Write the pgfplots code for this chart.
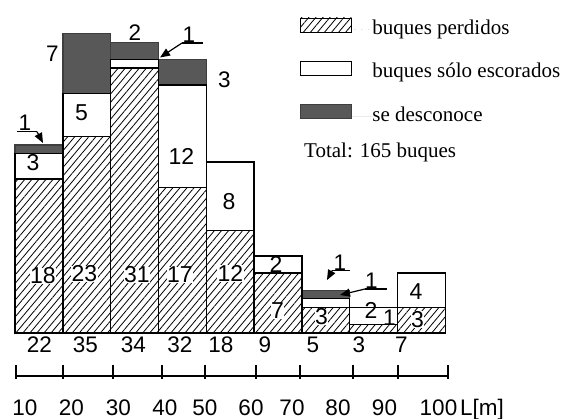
\documentclass[border=0pt]{standalone}
\usepackage{pgfplots}
\pgfplotsset{compat=1.18}
\usetikzlibrary{patterns.meta,arrows.meta}
\usepackage{fontspec}
\setmainfont{Liberation Serif}
\newfontfamily\arialf{Liberation Sans}
\definecolor{darkbar}{RGB}{88,88,88}
% pixel row -> axis y (baseline at row 333, 8.55 px per ship)
\newcommand{\Y}[1]{(333-#1)/8.55}
\tikzset{
  lab/.style={font=\arialf\fontsize{23bp}{26bp}\selectfont, inner sep=0.3bp, fill=white},
  labw/.style={font=\arialf\fontsize{23bp}{26bp}\selectfont, inner sep=0pt},
  labn/.style={font=\arialf\fontsize{22.5bp}{26bp}\selectfont, inner sep=0pt},
  arr/.style={line width=1.2bp, -{Triangle[length=10bp,width=8bp]}},
}
\pgfplotsset{
  common/.style={at={(0,0)}, anchor=south west, scale only axis,
    width=562bp, height=419bp, xmin=0, xmax=562, ymin=-10.0585, ymax=38.9474,
    hide axis, clip=false},
  boxlegend/.style={legend image code/.code={%
      \draw[##1, line width=0.9bp] (0bp,-2bp) rectangle (51bp,12bp);
      \path[draw=none] (0bp,0bp) -- (72bp,0bp);}},
}
\begin{document}
\begin{tikzpicture}
\begin{axis}[common,
  ybar stacked, bar width=47.8,
  legend style={at={(0.5338,0.9582)}, anchor=north west, draw=none, fill=none,
    inner sep=0pt, outer sep=0pt, row sep=21.5bp, column sep=0pt,
    font=\fontsize{21bp}{25bp}\selectfont,
    nodes={inner sep=0pt, text height=14bp, text depth=5bp}},
  legend cell align=left,
]
\addplot[draw=black, line width=1.4bp,
  pattern={Lines[angle=50,distance=5.4bp,line width=0.8bp]}, boxlegend]
  coordinates {(39,18) (86.8,23) (134.6,31) (182.4,17) (230.2,12) (278,7) (325.8,3) (373.6,1) (421.4,3)};
\addlegendentry{buques perdidos}
\addplot[draw=black, line width=1.4bp, fill=white, boxlegend]
  coordinates {(39,3) (86.8,5) (134.6,1) (182.4,12) (230.2,8) (278,2) (325.8,1) (373.6,2) (421.4,4)};
\addlegendentry{buques sólo escorados}
\addplot[draw=darkbar!70!black, line width=1.4bp, fill=darkbar, boxlegend]
  coordinates {(39,1) (86.8,7) (134.6,2) (182.4,3) (230.2,0) (278,0) (325.8,1) (373.6,0) (421.4,0)};
\addlegendentry{se desconoce}
\end{axis}

\begin{axis}[common]
% scale bar
\addplot[black, line width=2.4bp, mark=|, mark size=7bp,
  mark options={yshift=4bp, line width=1.8bp}]
  coordinates {(16,-5.0292) (63,-5.0292) (113,-5.0292) (162,-5.0292) (205,-5.0292)
               (256,-5.0292) (300,-5.0292) (353,-5.0292) (398,-5.0292) (448,-5.0292)};

% labels inside / beside bars
\node[lab] at (axis cs:43,{\Y{276}}) {18};
\node[labw] at (axis cs:33,{\Y{162.5}}) {3};
\node[lab] at (axis cs:84.5,{\Y{274}}) {23};
\node[labw] at (axis cs:81.5,{\Y{112.5}}) {5};
\node[labn] at (axis cs:52.5,{\Y{53.5}}) {7};
\node[lab] at (axis cs:137,{\Y{275}}) {31};
\node[labn] at (axis cs:135,{\Y{32.5}}) {2};
\node[lab] at (axis cs:180,{\Y{275}}) {17};
\node[labw] at (axis cs:181.5,{\Y{156.5}}) {12};
\node[labn] at (axis cs:224.5,{\Y{80}}) {3};
\node[lab] at (axis cs:230.5,{\Y{273.5}}) {12};
\node[labw] at (axis cs:229,{\Y{201.5}}) {8};
\node[lab] at (axis cs:277.5,{\Y{311}}) {7};
\node[labw] at (axis cs:276,{\Y{264.5}}) {2};
\node[lab] at (axis cs:321.5,{\Y{317}}) {3};
\node[labw] at (axis cs:371,{\Y{310.5}}) {2};
\node[labn] at (axis cs:389.5,{\Y{317.5}}) {1};
\node[labw] at (axis cs:416,{\Y{291.5}}) {4};
\node[lab] at (axis cs:417.5,{\Y{319.5}}) {3};

% "1" call-outs with arrows
\node[labn] at (axis cs:25,{\Y{122.5}}) {1};
\draw[line width=1.2bp] (axis cs:17,{\Y{131.7}}) -- (axis cs:37,{\Y{131.7}});
\draw[arr] (axis cs:37,{\Y{131.7}}) -- (axis cs:43,{\Y{143}});
\node[labn] at (axis cs:189,{\Y{35}}) {1};
\draw[line width=1.2bp] (axis cs:182,{\Y{43}}) -- (axis cs:203,{\Y{43}});
\draw[arr] (axis cs:182,{\Y{43}}) -- (axis cs:160,{\Y{57.5}});
\node[labn] at (axis cs:340,{\Y{262.5}}) {1};
\draw[line width=1.2bp] (axis cs:332,{\Y{270.7}}) -- (axis cs:350,{\Y{270.7}});
\draw[arr] (axis cs:332,{\Y{270.7}}) -- (axis cs:327,{\Y{280}});
\node[labn] at (axis cs:371.5,{\Y{280.5}}) {1};
\draw[line width=1.2bp] (axis cs:365,{\Y{289}}) -- (axis cs:387,{\Y{289}});
\draw[arr] (axis cs:365,{\Y{289}}) -- (axis cs:340,{\Y{295}});

% totals
\node[labn] at (axis cs:39.5,{\Y{344.5}}) {22};
\node[labn] at (axis cs:85.5,{\Y{344.5}}) {35};
\node[labn] at (axis cs:133.5,{\Y{344.5}}) {34};
\node[labn] at (axis cs:180,{\Y{344.5}}) {32};
\node[labn] at (axis cs:221,{\Y{344.5}}) {18};
\node[labn] at (axis cs:265,{\Y{344.5}}) {9};
\node[labn] at (axis cs:313,{\Y{344.5}}) {5};
\node[labn] at (axis cs:359,{\Y{344.5}}) {3};
\node[labn] at (axis cs:401.5,{\Y{344.5}}) {7};

% scale labels
\node[labn, anchor=base] at (axis cs:25,{\Y{415.5}}) {10};
\node[labn, anchor=base] at (axis cs:71.5,{\Y{415.5}}) {20};
\node[labn, anchor=base] at (axis cs:118.5,{\Y{415.5}}) {30};
\node[labn, anchor=base] at (axis cs:165,{\Y{415.5}}) {40};
\node[labn, anchor=base] at (axis cs:205,{\Y{415.5}}) {50};
\node[labn, anchor=base] at (axis cs:251,{\Y{415.5}}) {60};
\node[labn, anchor=base] at (axis cs:292,{\Y{415.5}}) {70};
\node[labn, anchor=base] at (axis cs:338,{\Y{415.5}}) {80};
\node[labn, anchor=base] at (axis cs:384.5,{\Y{415.5}}) {90};
\node[labn, anchor=base] at (axis cs:438.5,{\Y{415.5}}) {100};
\node[labn, anchor=base west] at (axis cs:460,{\Y{415.5}}) {L[m]};

\node[anchor=west, inner sep=0pt, font=\fontsize{21bp}{25bp}\selectfont]
  at (axis cs:304,{\Y{152}}) {Total: 165 buques};
\end{axis}
\pgfresetboundingbox
\useasboundingbox (0,0) rectangle (562bp,419bp);
\end{tikzpicture}
\end{document}
